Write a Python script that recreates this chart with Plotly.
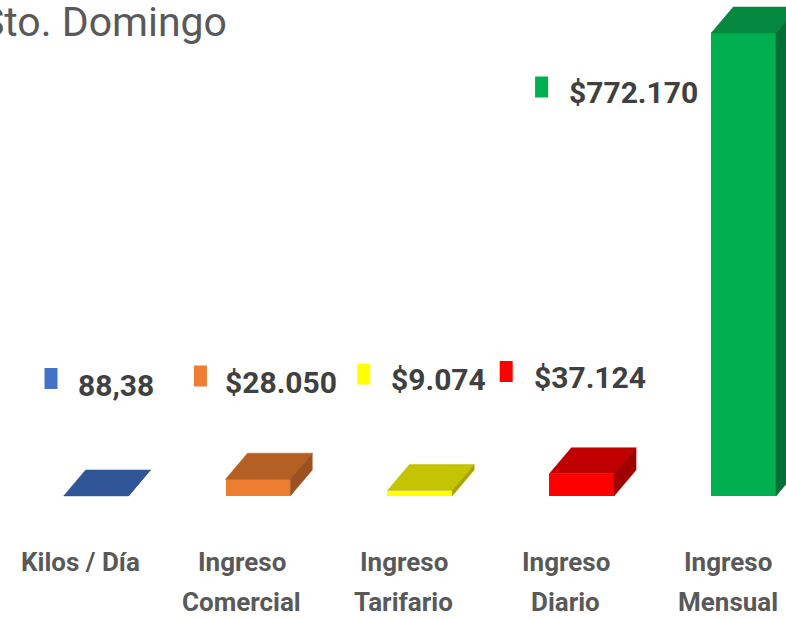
"""Sto. Domingo - pseudo 3D bar chart."""
import plotly.graph_objects as go

# Data
categories = ['Kilos / Día', 'Ingreso Comercial', 'Ingreso Tarifario', 'Ingreso Diario', 'Ingreso Mensual']
cat_lines = [['Kilos / Día'], ['Ingreso', 'Comercial'], ['Ingreso', 'Tarifario'],
             ['Ingreso', 'Diario'], ['Ingreso', 'Mensual']]
values = [88.38, 28050, 9074, 37124, 772170]
is_money = [False, True, True, True, True]

# Colours (front / top / side faces)
FRONT = ['#4472C4', '#ED7D31', '#FFFF00', '#FF0000', '#00B050']
TOP = ['#2F5597', '#B45F24', '#C4C400', '#C00000', '#05883F']
SIDE = ['#27477E', '#9C521F', '#A6A600', '#A00000', '#007034']

W, H = 786, 619
FONT = 'Roboto, Liberation Sans, Arial, sans-serif'

# Pixel layout of the original picture
BASE_PX = 496           # pixel row of value 0
TOP_PX = 33             # pixel row of the largest value
X0_PX, STEP_PX = 96, 161.9
BAR_W = 0.40
DX_PX, DY_PX = 22, 26

val_per_px = max(values) / (BASE_PX - TOP_PX)
y_range = [-(H - BASE_PX) * val_per_px, BASE_PX * val_per_px]
x_range = [-X0_PX / STEP_PX, (W - X0_PX) / STEP_PX]
dx = DX_PX / STEP_PX
dy = DY_PX * val_per_px

# label placement: px offsets from bar centre and px rows
TEXT_DX = [-20, -35, -31, -50, -177]
TEXT_Y = [385, 382, 380, 377, 92]
KEY_DX = [-45, -57.5, -56, -75.5, -202]
KEY_Y = [378.5, 376, 374, 371.5, 87]


def fmt(v, money):
    if money:
        return '$' + f"{v:,.0f}".replace(',', '.')
    return f"{v:,.2f}".replace(',', 'X').replace('.', ',').replace('X', '.')


def py(px):
    return 1 - px / H


fig = go.Figure()

x = list(range(len(values)))
fig.add_trace(go.Bar(
    x=x, y=values, width=BAR_W,
    marker=dict(color=FRONT, line=dict(width=0)),
    hoverinfo='skip', showlegend=False
))

# top and side faces of the bars
for i, v in enumerate(values):
    xl, xr = i - BAR_W / 2, i + BAR_W / 2
    fig.add_trace(go.Scatter(
        x=[xl, xr, xr + dx, xl + dx, xl],
        y=[v, v, v + dy, v + dy, v],
        fill='toself', fillcolor=TOP[i], mode='lines', line=dict(width=0.5, color=TOP[i]),
        hoverinfo='skip', showlegend=False
    ))
    fig.add_trace(go.Scatter(
        x=[xr, xr + dx, xr + dx, xr, xr],
        y=[0, dy, v + dy, v, 0],
        fill='toself', fillcolor=SIDE[i], mode='lines', line=dict(width=0.5, color=SIDE[i]),
        hoverinfo='skip', showlegend=False
    ))

# value labels with legend keys
for i, v in enumerate(values):
    fig.add_annotation(
        x=i, xref='x', xshift=TEXT_DX[i], xanchor='left',
        y=py(TEXT_Y[i]), yref='paper', yanchor='middle',
        text=f"<b>{fmt(v, is_money[i])}</b>", showarrow=False,
        font=dict(family=FONT, size=30, color='#404040')
    )
    ky = H - KEY_Y[i]
    fig.add_shape(
        type='rect', xref='x', yref='paper', xsizemode='pixel', ysizemode='pixel',
        xanchor=i, yanchor=0,
        x0=KEY_DX[i] - 6.5, x1=KEY_DX[i] + 6.5,
        y0=ky - 10.5, y1=ky + 10.5,
        fillcolor=FRONT[i], line=dict(width=0)
    )

# category labels
for i, lines in enumerate(cat_lines):
    for j, t in enumerate(lines):
        fig.add_annotation(
            x=i, xref='x', xshift=-16, xanchor='center',
            y=py(562 + 40 * j), yref='paper', yanchor='middle',
            text=f"<b>{t}</b>", showarrow=False,
            font=dict(family=FONT, size=26, color='#595959')
        )

# title (cut at the left edge in the original)
fig.add_annotation(
    x=229 / W, xref='paper', xanchor='right',
    y=py(22), yref='paper', yanchor='middle',
    text='Sto. Domingo', showarrow=False,
    font=dict(family=FONT, size=41, color='#595959')
)

fig.update_xaxes(range=x_range, visible=False, showgrid=False, zeroline=False)
fig.update_yaxes(range=y_range, visible=False, showgrid=False, zeroline=False)
fig.update_layout(
    width=W, height=H,
    margin=dict(l=0, r=0, t=0, b=0),
    plot_bgcolor='white', paper_bgcolor='white',
    showlegend=False, bargap=0
)

fig.write_html("out.html", config={'displayModeBar': False},
               post_script="document.body.style.margin='0';")
